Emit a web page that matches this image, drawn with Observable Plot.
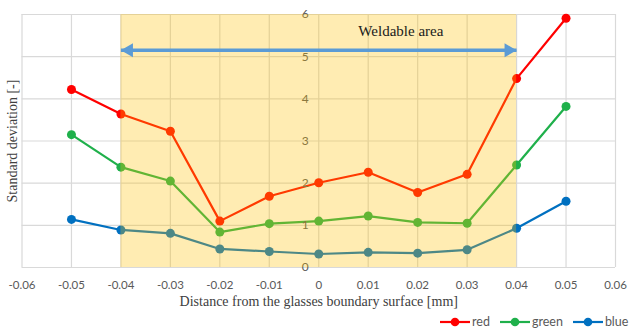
<!DOCTYPE html>
<html>
<head>
<meta charset="utf-8">
<script src="https://cdn.jsdelivr.net/npm/d3@7"></script>
<script src="https://cdn.jsdelivr.net/npm/@observablehq/plot@0.6"></script>
<style>
  body { margin: 0; background: #fff; }
  #legend { width: 629px; height: 21px; overflow: hidden; white-space: nowrap; padding-left: 440px; box-sizing: border-box;
    font-family: Lato, "Open Sans", sans-serif; font-size: 12.5px; color: #595959; line-height: 16px; }
  #legend span.item { display: inline-flex; align-items: center; margin-right: 10px; }
  #legend svg { margin-right: 2px; }
</style>
</head>
<body>
<div id="chart"></div>
<div id="legend"></div>
<script>
const positions = [-0.05, -0.04, -0.03, -0.02, -0.01, 0, 0.01, 0.02, 0.03, 0.04, 0.05];
const redValues   = [4.22, 3.64, 3.23, 1.10, 1.69, 2.01, 2.26, 1.78, 2.21, 4.48, 5.91];
const greenValues = [3.15, 2.38, 2.05, 0.84, 1.04, 1.10, 1.22, 1.07, 1.05, 2.43, 3.82];
const blueValues  = [1.14, 0.89, 0.81, 0.44, 0.38, 0.32, 0.36, 0.34, 0.42, 0.93, 1.57];
const seriesNames = ["red", "green", "blue"];
const seriesColors = ["#ff0000", "#1fb04b", "#0070c0"];
const xTicks = [-0.06, -0.05, -0.04, -0.03, -0.02, -0.01, 0, 0.01, 0.02, 0.03, 0.04, 0.05, 0.06];
const yTicks = [0, 1, 2, 3, 4, 5, 6];
const weldableRange = [-0.04, 0.04];
const arrowLevel = 5.15;
const annotation = [{x: 0.0166, y: 5.6, text: "Weldable area"}];

const seriesValues = [redValues, greenValues, blueValues];
const data = seriesNames.flatMap((s, i) => positions.map((p, j) => ({series: s, color: seriesColors[i], x: p, y: seriesValues[i][j]})));
const fmt = d => d === 0 ? "0" : d.toFixed(2);

const chart = Plot.plot({
  width: 629,
  height: 314,
  marginTop: 14,
  marginBottom: 47,
  marginLeft: 21.5,
  marginRight: 14,
  style: {fontFamily: "Lato, 'Open Sans', sans-serif", fontSize: "11.5px", color: "#595959", background: "#fff"},
  x: {domain: [-0.06, 0.06], ticks: xTicks, tickFormat: fmt, tickSize: 0, tickPadding: 13, label: null},
  y: {domain: [0, 6], axis: null},
  marks: [
    Plot.ruleX(xTicks, {stroke: "#d9d9d9", strokeWidth: 1.2}),
    Plot.ruleY(yTicks, {stroke: "#d9d9d9", strokeWidth: 1.2}),
    Plot.line(data, {x: "x", y: "y", z: "series", stroke: d => d.color, strokeWidth: 2.2}),
    Plot.dot(data, {x: "x", y: "y", fill: d => d.color, r: 4.5}),
    Plot.text(yTicks, {x: 0, y: d => d, text: d => String(d), dx: -10, textAnchor: "end", fill: "#595959", fontSize: 12}),
    Plot.rect([weldableRange], {x1: d => d[0], x2: d => d[1], y1: 0, y2: 6, fill: "#ffc000", fillOpacity: 0.3}),
    Plot.link([weldableRange], {x1: d => d[0], x2: d => d[1], y1: arrowLevel, y2: arrowLevel, stroke: "#5b9bd5", strokeWidth: 3.5}),
    Plot.dot([weldableRange[0]], {x: d => d, y: arrowLevel, symbol: "triangle", r: 5.2, rotate: -90, dx: 8, fill: "#5b9bd5"}),
    Plot.dot([weldableRange[1]], {x: d => d, y: arrowLevel, symbol: "triangle", r: 5.2, rotate: 90, dx: -8, fill: "#5b9bd5"}),
    Plot.text(annotation, {x: "x", y: "y", text: "text", fill: "#1a1a1a", fontFamily: "'Liberation Serif', serif", fontSize: 15}),
    Plot.text(["Distance from the glasses boundary surface [mm]"], {frameAnchor: "bottom", text: d => d, dy: 38, fill: "#404040", fontFamily: "'Liberation Serif', serif", fontSize: 14}),
    Plot.text(["Standard deviation [-]"], {frameAnchor: "left", text: d => d, rotate: -90, textAnchor: "middle", dx: -9.5, fill: "#404040", fontFamily: "'Liberation Serif', serif", fontSize: 14})
  ]
});
document.getElementById("chart").append(chart);

const legend = document.getElementById("legend");
seriesNames.forEach((s, i) => {
  const item = document.createElement("span");
  item.className = "item";
  item.innerHTML = `<svg width="30" height="12"><line x1="0" y1="6" x2="30" y2="6" stroke="${seriesColors[i]}" stroke-width="2.2"/><circle cx="15" cy="6" r="4.3" fill="${seriesColors[i]}"/></svg>${s}`;
  legend.append(item);
});
</script>
</body>
</html>
